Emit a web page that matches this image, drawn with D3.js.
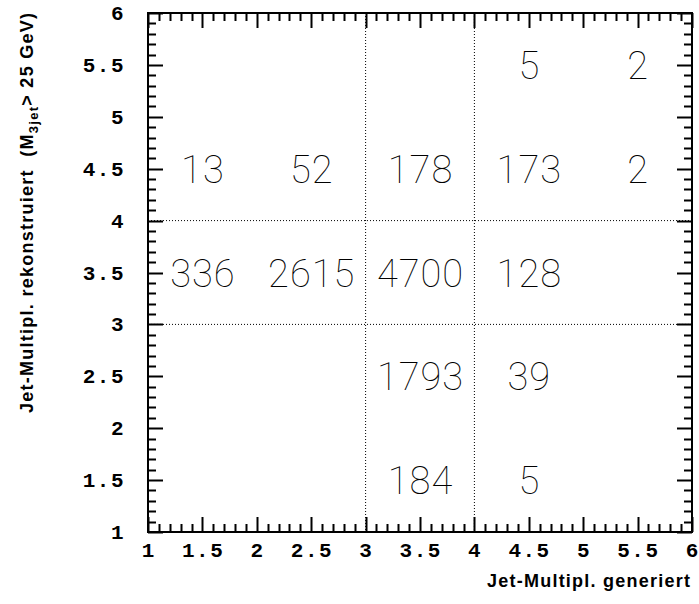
<!DOCTYPE html>
<html>
<head>
<meta charset="utf-8">
<title>Jet-Multiplizitaet</title>
<style>
  body { margin: 0; background: #fff; }
  .tick-label { font-family: "Liberation Mono", "Courier New", monospace; font-weight: bold; font-size: 21px; letter-spacing: 1.5px; }
  .axis-title { font-family: "Liberation Sans", Arial, sans-serif; font-weight: bold; font-size: 18px; }
  .cell { font-family: Roboto, "Open Sans", sans-serif; font-weight: 100; font-size: 38px; fill: #000; letter-spacing: 1px; }
</style>
</head>
<body>
<svg id="viz" width="699" height="604"></svg>
<script src="https://d3js.org/d3.v7.min.js"></script>
<script>

// bin centres (generated / reconstructed jet multiplicity)
var genCentres = [1.5, 2.5, 3.5, 4.5, 5.5];
var recCentres = [5.5, 4.5, 3.5, 2.5, 1.5];

// counts per row (reconstructed), columns = generated; null = empty bin
var row55 = [null, null, null, 5, 2];
var row45 = [13, 52, 178, 173, 2];
var row35 = [336, 2615, 4700, 128, null];
var row25 = [null, null, 1793, 39, null];
var row15 = [null, null, 184, 5, null];
var rows = [row55, row45, row35, row25, row15];

var majorTicks = [1, 1.5, 2, 2.5, 3, 3.5, 4, 4.5, 5, 5.5, 6];
var gridLines = [3, 4];

var svg = d3.select("#viz");
var pLeft = 148, pRight = 692, pTop = 13, pBottom = 532;

var x = d3.scaleLinear().domain([1, 6]).range([pLeft, pRight]);
var y = d3.scaleLinear().domain([1, 6]).range([pBottom, pTop]);

// dotted grid lines
var grid = svg.append("g");
gridLines.forEach(function(v) {
    grid.append("line")
        .attr("x1", x(v)).attr("x2", x(v)).attr("y1", pTop).attr("y2", pBottom)
        .attr("stroke", "#000").attr("stroke-width", 1).attr("stroke-dasharray", "1,2");
    grid.append("line")
        .attr("x1", pLeft).attr("x2", pRight).attr("y1", y(v)).attr("y2", y(v))
        .attr("stroke", "#000").attr("stroke-width", 1).attr("stroke-dasharray", "1,2");
});

// frame
svg.append("rect")
    .attr("x", pLeft).attr("y", pTop)
    .attr("width", pRight - pLeft).attr("height", pBottom - pTop)
    .attr("fill", "none").attr("stroke", "#000").attr("stroke-width", 2);

// ticks on all four sides: minor every 0.1, major every 0.5
var minorVals = x.ticks(50);
var p = d3.path();
minorVals.forEach(function(v) {
    var len = Math.abs(v * 2 - Math.round(v * 2)) < 1e-6 ? 15 : 8;
    var xv = Math.round(x(v)) + 0.5, yv = Math.round(y(v)) + 0.5;
    p.moveTo(xv, pBottom); p.lineTo(xv, pBottom - len);
    p.moveTo(xv, pTop); p.lineTo(xv, pTop + len);
    p.moveTo(pLeft, yv); p.lineTo(pLeft + len, yv);
    p.moveTo(pRight, yv); p.lineTo(pRight - len, yv);
});
svg.append("path")
    .attr("d", p.toString())
    .attr("fill", "none")
    .attr("stroke", "#000")
    .attr("stroke-width", 2);

var fmt = function(d) { return String(d); };

svg.append("g").selectAll("text")
    .data(majorTicks).enter().append("text")
    .attr("class", "tick-label")
    .attr("x", function(d) { return x(d) + 0.75; })
    .attr("y", 557)
    .attr("text-anchor", "middle")
    .text(fmt);

svg.append("g").selectAll("text")
    .data(majorTicks).enter().append("text")
    .attr("class", "tick-label")
    .attr("x", 125)
    .attr("y", function(d) { return y(d) + 7; })
    .attr("text-anchor", "end")
    .text(fmt);

// cell contents
var cells = [];
rows.forEach(function(r, i) {
    r.forEach(function(v, j) {
        if (v !== null) cells.push({gx: genCentres[j], ry: recCentres[i], n: v});
    });
});

svg.append("g").selectAll("text")
    .data(cells).enter().append("text")
    .attr("class", "cell")
    .attr("x", function(d) { return x(d.gx) + 0.5; })
    .attr("y", function(d) { return y(d.ry) + 14; })
    .attr("text-anchor", "middle")
    .text(function(d) { return d.n; });

// axis titles
svg.append("text")
    .attr("class", "axis-title")
    .attr("x", 487).attr("y", 587)
    .attr("textLength", 203)
    .attr("lengthAdjust", "spacing")
    .text("Jet-Multipl. generiert");

var yt = svg.append("text")
    .attr("class", "axis-title")
    .attr("transform", "translate(33,413) rotate(-90)")
    .attr("textLength", 400)
    .attr("lengthAdjust", "spacing");
yt.append("tspan").text("Jet-Multipl. rekonstruiert\u00a0\u00a0(M");
yt.append("tspan").attr("dy", 5).style("font-size", "13px").text("3jet");
yt.append("tspan").attr("dy", -5).text("> 25 GeV)");

</script>
</body>
</html>
